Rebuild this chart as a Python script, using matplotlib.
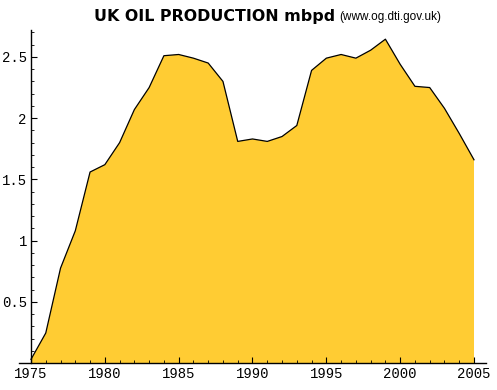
import matplotlib
matplotlib.use('Agg')
import matplotlib.pyplot as plt
import numpy as np

# UK oil production, million barrels per day
years = [1975, 1976, 1977, 1978, 1979, 1980, 1981, 1982, 1983, 1984, 1985,
         1986, 1987, 1988, 1989, 1990, 1991, 1992, 1993, 1994, 1995, 1996,
         1997, 1998, 1999, 2000, 2001, 2002, 2003, 2004, 2005]
mbpd = [0.03, 0.245, 0.775, 1.08, 1.56, 1.62, 1.80, 2.07, 2.25, 2.51, 2.52,
        2.49, 2.45, 2.30, 1.81, 1.83, 1.81, 1.85, 1.94, 2.39, 2.49, 2.52,
        2.49, 2.555, 2.645, 2.44, 2.26, 2.25, 2.08, 1.875, 1.66]

x_ticks = [1975, 1980, 1985, 1990, 1995, 2000, 2005]
x_labels = ['1975', '1980', '1985', '1990', '1995', '2000', '2005']
y_ticks = [0.5, 1.0, 1.5, 2.0, 2.5]
y_labels = ['0.5', '1', '1.5', '2', '2.5']

FILL = '#FFCC33'
MONO = 'Liberation Mono'

fig = plt.figure(figsize=(4.97, 3.90), dpi=100)
ax = fig.add_axes([19 / 497, 27 / 390, (486 - 19) / 497, (360 - 27) / 390])

ax.fill_between(years, 0, mbpd, facecolor=FILL, edgecolor='none', zorder=1)
ax.plot(years, mbpd, color='black', lw=0.9, zorder=2)

ax.set_xlim(1975 - 12 / 14.77, 2005 + 12 / 14.77)
ax.set_ylim(0, 2.72)

# axes crossing at (1975, 0), Mathematica style
ax.spines['top'].set_visible(False)
ax.spines['right'].set_visible(False)
ax.spines['left'].set_position(('data', 1975))
ax.spines['bottom'].set_position(('data', 0))
for s in ('left', 'bottom'):
    ax.spines[s].set_linewidth(1.0)
    ax.spines[s].set_zorder(3)

ax.set_xticks(x_ticks)
ax.set_xticklabels(x_labels, fontname=MONO, fontsize=10)
ax.set_xticks(np.arange(1975, 2006, 1), minor=True)
ax.set_yticks(y_ticks)
ax.set_yticklabels(y_labels, fontname=MONO, fontsize=10)
ax.set_yticks(np.arange(0.1, 2.71, 0.1), minor=True)

ax.tick_params(axis='x', which='major', direction='in', length=4, width=0.8, pad=3)
ax.tick_params(axis='x', which='minor', direction='in', length=2.5, width=0.6)
ax.tick_params(axis='y', which='major', direction='in', length=4, width=0.8, pad=3)
ax.tick_params(axis='y', which='minor', direction='in', length=2.5, width=0.6)

fig.text(335 / 497, 1 - 16 / 390, 'UK OIL PRODUCTION mbpd', ha='right', va='center',
         fontsize=11.4, fontweight='heavy', family='DejaVu Sans')
fig.text(339 / 497, 1 - 17 / 390, '(www.og.dti.gov.uk)', ha='left', va='center',
         fontsize=8.5, family='Liberation Sans')

fig.savefig('out.png', dpi=100)
